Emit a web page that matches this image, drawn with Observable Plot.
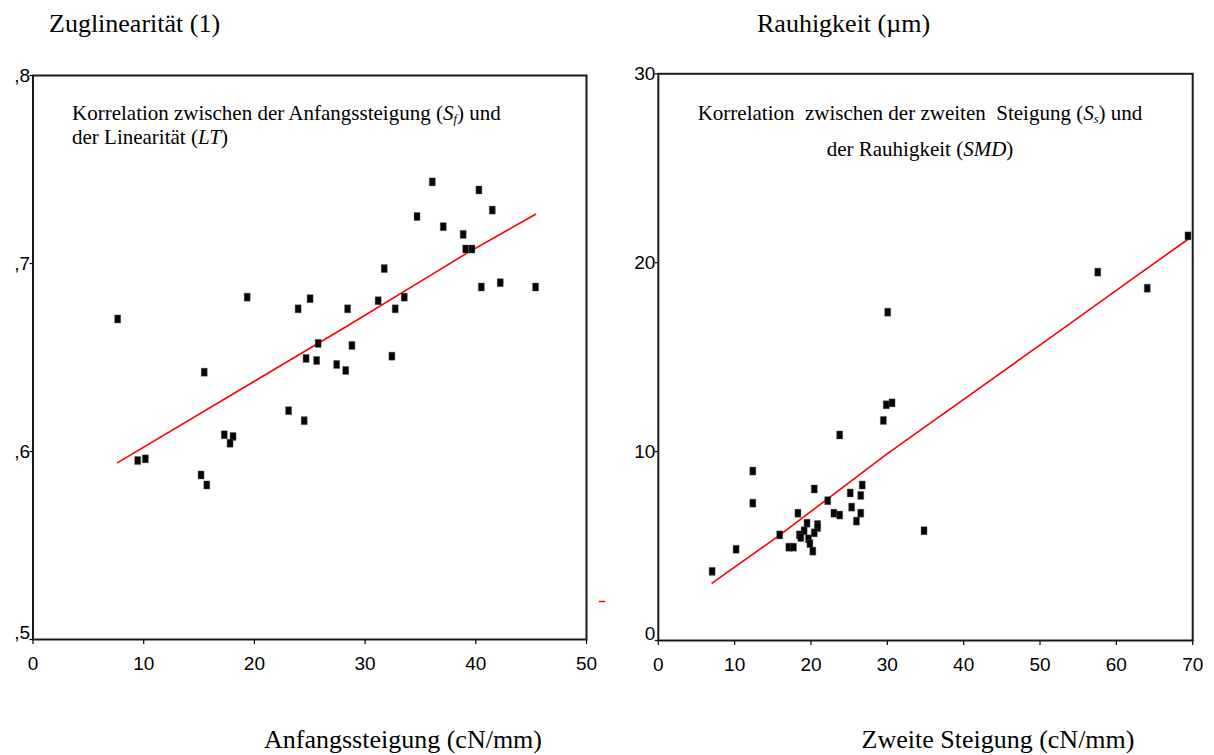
<!DOCTYPE html>
<html>
<head>
<meta charset="utf-8">
<script src="https://cdn.jsdelivr.net/npm/d3@7"></script>
<script src="https://cdn.jsdelivr.net/npm/@observablehq/plot@0.6"></script>
<style>
  html, body { margin: 0; padding: 0; background: #fff; }
  body { width: 1214px; height: 755px; position: relative; overflow: hidden;
         font-family: "Liberation Serif", "Times New Roman", serif; color: #000; }
  .abs { position: absolute; white-space: pre; line-height: 1; }
  .title { font-size: 26px; }
  .axt { font-size: 26px; transform: translateX(-50%); }
  .note { font-size: 21px; }
  sub { font-size: 0.6em; vertical-align: -0.25em; line-height: 0; }
</style>
</head>
<body>
<div id="left" class="abs" style="left:0;top:0"></div>
<div id="right" class="abs" style="left:607px;top:0"></div>

<div class="abs title" style="left:49px;top:11px">Zuglinearität (1)</div>
<div class="abs title" style="left:757px;top:11px">Rauhigkeit (µm)</div>
<div class="abs axt" style="left:403px;top:727px">Anfangssteigung (cN/mm)</div>
<div class="abs axt" style="left:998px;top:727px">Zweite Steigung (cN/mm)</div>

<div class="abs note" style="left:72px;top:101px;line-height:24px">Korrelation zwischen der Anfangssteigung (<i>S<sub>f</sub></i>) und
der Linearität (<i>LT</i>)</div>
<div class="abs note" style="left:920px;top:95px;line-height:36px;text-align:center;transform:translateX(-50%)">Korrelation  zwischen der zweiten  Steigung (<i>S<sub>s</sub></i>) und
der Rauhigkeit (<i>SMD</i>)</div>

<script>
// ---------- Left panel: Anfangssteigung vs. Zuglinearität ----------
const leftX = [36.07, 40.28, 41.49, 34.69, 37.06, 38.86, 39.09, 39.65, 31.73, 40.5,
               42.21, 45.4, 19.35, 25.03, 23.95, 28.42, 31.18, 33.54, 32.72, 7.65,
               25.76, 28.81, 24.67, 25.62, 32.42, 27.43, 28.25, 15.47, 23.09, 24.5,
               17.28, 18.07, 17.8, 9.46, 10.15, 15.18, 15.7];
const leftY = [0.7434, 0.7391, 0.7284, 0.725, 0.7196, 0.7155, 0.7077, 0.7077, 0.6973, 0.6875,
               0.6898, 0.6875, 0.6821, 0.6813, 0.6759, 0.6759, 0.6802, 0.6821, 0.6759, 0.6705,
               0.6575, 0.6564, 0.6495, 0.6484, 0.6507, 0.6463, 0.6431, 0.6422, 0.6217, 0.6164,
               0.6089, 0.608, 0.6044, 0.5952, 0.5961, 0.5875, 0.5822];
const leftFitX = [7.65, 20.0, 28.35, 35.9, 39.2, 45.4];
const leftFitY = [0.5941, 0.6374, 0.6666, 0.6937, 0.7055, 0.7262];
const leftXTicks = [0, 10, 20, 30, 40, 50];
const leftYTicks = [0.5, 0.6, 0.7, 0.8];
const leftYTickLabels = [",5", ",6", ",7", ",8"];
const leftStrayX = [51.17, 51.63];
const leftStrayY = [0.5202, 0.5202];

// ---------- Right panel: Zweite Steigung vs. Rauhigkeit ----------
const rightX = [57.57, 64.05, 69.38, 30.05, 29.86, 30.62, 29.48, 23.76, 12.38, 12.38,
                20.43, 26.71, 25.14, 26.52, 22.19, 25.33, 18.29, 23.0, 23.76, 26.52,
                25.95, 19.48, 20.86, 20.86, 34.81, 15.9, 19.1, 18.48, 18.67, 20.43,
                19.67, 19.86, 17.1, 17.71, 20.24, 10.19, 7.05];
const rightY = [19.5, 18.65, 21.42, 17.38, 12.48, 12.58, 11.65, 10.88, 8.97, 7.27,
                8.02, 8.23, 7.81, 7.68, 7.4, 7.06, 6.74, 6.74, 6.64, 6.74,
                6.32, 6.21, 6.14, 5.98, 5.81, 5.59, 5.81, 5.59, 5.45, 5.7,
                5.38, 5.13, 4.94, 4.94, 4.73, 4.83, 3.66];
const rightFitX = [7.05, 15.9, 30.05, 51.0, 61.95, 69.38];
const rightFitY = [3.04, 5.58, 9.91, 15.93, 19.1, 21.24];
const rightXTicks = [0, 10, 20, 30, 40, 50, 60, 70];
const rightYTicks = [0, 10, 20, 30];
const rightYTickLabels = ["0", "10", "20", "30"];

// small upright rectangle marker (as in the original plot)
const rectSymbol = {
  draw(context) {
    const w = 6, h = 8;
    context.moveTo(-w / 2, -h / 2);
    context.lineTo(w / 2, -h / 2);
    context.lineTo(w / 2, h / 2);
    context.lineTo(-w / 2, h / 2);
    context.closePath();
  }
};

const zip = (xs, ys) => xs.map((x, i) => ({x, y: ys[i]}));
const axisStyle = {
  fontFamily: '"Liberation Sans", Arial, sans-serif',
  fontSize: "19px",
  color: "#000",
  background: "transparent",
  overflow: "visible"
};

function panel({width, height, margins, xDomain, yDomain, xTicks, yTicks, yLabels, pts, fit, extra = []}) {
  const yAxisData = yTicks.map((v, i) => ({v, label: yLabels[i]}));
  return Plot.plot({
    width, height,
    marginLeft: margins[0], marginRight: margins[1], marginTop: margins[2], marginBottom: margins[3],
    style: axisStyle,
    x: {domain: xDomain},
    y: {domain: yDomain},
    marks: [
      Plot.axisX(xTicks, {tickSize: 5, tickPadding: 12, label: null, strokeWidth: 1.2}),
      Plot.axisY(yTicks, {tickSize: 3, tickFormat: () => "", label: null, strokeWidth: 1.2}),
      Plot.text(yAxisData.slice(1), {y: "v", text: "label", frameAnchor: "left", textAnchor: "end", dx: -3}),
      Plot.text(yAxisData.slice(0, 1), {y: "v", text: "label", frameAnchor: "left", textAnchor: "end", dx: -3, dy: -7}),
      Plot.frame({stroke: "#1a1a1a", strokeWidth: 2}),
      Plot.line(fit, {x: "x", y: "y", stroke: "#ff0000", strokeWidth: 1.6}),
      Plot.dot(pts, {x: "x", y: "y", symbol: rectSymbol, r: 4, fill: "#050505", stroke: "#555", strokeWidth: 0.4}),
      ...extra
    ]
  });
}

const leftPlot = panel({
  width: 600, height: 755, margins: [32.5, 14, 75, 116],
  xDomain: [0, 50], yDomain: [0.5, 0.8],
  xTicks: leftXTicks, yTicks: leftYTicks, yLabels: leftYTickLabels,
  pts: zip(leftX, leftY), fit: zip(leftFitX, leftFitY),
  extra: [Plot.line(zip(leftStrayX, leftStrayY), {x: "x", y: "y", stroke: "#ff0000", strokeWidth: 1.5})]
});
document.getElementById("left").append(leftPlot);

const rightPlot = panel({
  width: 607, height: 755, margins: [50.8, 21.8, 73.3, 115],
  xDomain: [0, 70], yDomain: [0, 30],
  xTicks: rightXTicks, yTicks: rightYTicks, yLabels: rightYTickLabels,
  pts: zip(rightX, rightY), fit: zip(rightFitX, rightFitY)
});
document.getElementById("right").append(rightPlot);
</script>
</body>
</html>
